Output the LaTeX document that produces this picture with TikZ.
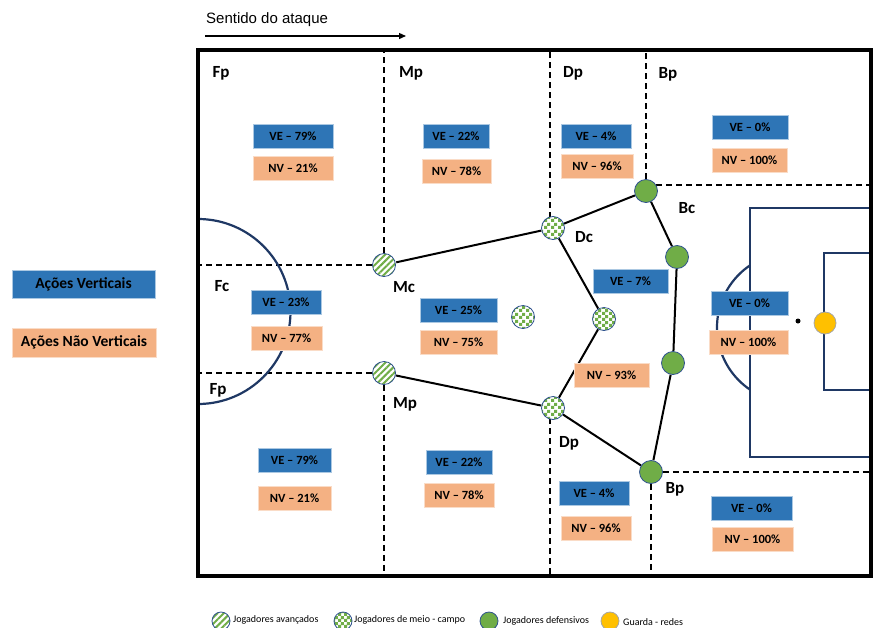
\documentclass[tikz,border=0pt]{standalone}
\usepackage{fontspec}
\setmainfont{Carlito}
\newfontfamily\arialfont{Liberation Sans}
\usepackage{xcolor}
\usepackage{tikz}
\usetikzlibrary{backgrounds}
\usetikzlibrary{positioning, calc, arrows.meta, patterns, patterns.meta}
\definecolor{veblue}{HTML}{2E75B6}
\definecolor{nvorange}{HTML}{F4B183}
\definecolor{pitchline}{HTML}{1F3864}
\definecolor{defgreen}{HTML}{70AD47}
\definecolor{rimblue}{HTML}{2F528F}
\definecolor{gkyellow}{HTML}{FFC000}
\pgfdeclarepatternformonly{meiocheck}{\pgfpointorigin}{\pgfqpoint{6.4pt}{6.4pt}}{\pgfqpoint{6.4pt}{6.4pt}}{
  \pgfpathrectangle{\pgfpointorigin}{\pgfqpoint{3.25pt}{3.25pt}}
  \pgfpathrectangle{\pgfqpoint{3.2pt}{3.2pt}}{\pgfqpoint{3.25pt}{3.25pt}}
  \pgfusepath{fill}}
\tikzset{zone/.style={font=\fontsize{17}{17}\selectfont\bfseries}}
\tikzset{pct/.style={font=\fontsize{12.5}{12.5}\selectfont\bfseries, minimum height=24pt, inner sep=0pt, line width=0.7pt}}
\tikzset{ve/.style={pct, fill=veblue, draw=white!60!veblue, minimum width=#1}, ve/.default=72pt}
\tikzset{nv/.style={pct, fill=nvorange, draw=white!55!nvorange, minimum width=#1}, nv/.default=72pt}
\tikzset{player/.style={circle, minimum size=23pt, inner sep=0pt, draw=rimblue, line width=0.8pt}}
\tikzset{avancado/.style={player, preaction={fill=white}, pattern={Lines[angle=45, distance=4.5pt, line width=2pt]}, pattern color=defgreen}}
\tikzset{meio/.style={player, preaction={fill=white}, pattern=meiocheck, pattern color=defgreen}}
\tikzset{defensor/.style={player, fill=defgreen}}
\tikzset{guarda/.style={circle, minimum size=22pt, inner sep=0pt, fill=gkyellow, draw=gray!70, line width=0.8pt}}
\tikzset{link/.style={line width=2pt}}
\tikzset{divisa/.style={line width=1.6pt, dash pattern=on 6pt off 4pt}}
\tikzset{marca/.style={draw=pitchline, line width=2.2pt}}
\tikzset{legenda/.style={anchor=west, font=\fontsize{10}{10}\selectfont, inner sep=0pt}}

\begin{document}
\begin{tikzpicture}[x=1pt, y=-1pt]
  \useasboundingbox (0,0) rectangle (875,627);

  \node[anchor=west, inner sep=0pt, font=\arialfont\fontsize{15}{15}\selectfont] (sentido) at (206,20) {Sentido do ataque};
  \coordinate (s0) at (205,36);
  \coordinate (s1) at (406,36);
  \draw[-{Triangle[length=7pt, width=6pt]}, line width=1.3pt] (s0) -- (s1);

  % campo
  \coordinate (cnw) at (198,50);
  \coordinate (cse) at (871,576);
  \begin{scope}
    \clip (cnw) rectangle (300,576);
    \draw[marca] (198,311.5) circle[radius=92.5];
  \end{scope}
  \draw[marca] (750,208) rectangle (871,457);
  \draw[marca] (824,253) rectangle (871,390);
  \begin{scope}
    \clip (700,200) rectangle (750,460);
    \draw[marca] (792,327.5) circle[radius=75];
  \end{scope}
  \draw[line width=4.2pt] (cnw) rectangle (cse);
  \node[circle, fill=black, minimum size=5pt, inner sep=0pt] (pen) at (798,321) {};

  % jogadores
  \node[avancado] (mc) at (384,265) {};
  \node[avancado] (mp) at (384,373) {};
  \node[meio] (dc) at (553,228) {};
  \node[meio] (mid) at (523,317) {};
  \node[meio] (dr) at (604,319) {};
  \node[meio] (dp) at (553,408) {};
  \node[defensor] (bc) at (646,191) {};
  \node[defensor] (b2) at (677,257) {};
  \node[defensor] (b3) at (673,363) {};
  \node[defensor] (bp) at (651,472) {};
  \node[guarda] (gk) at (825,323) {};

  \begin{scope}[on background layer]
    \draw[divisa] (mc) -- (mc |- cnw);
    \draw[divisa] (mp) -- (mp |- cse);
    \draw[divisa] (mc) -- (mc -| cnw);
    \draw[divisa] (mp) -- (mp -| cnw);
    \draw[divisa] ([xshift=-3pt]dc.center) -- ([xshift=-3pt]dc.center |- cnw);
    \draw[divisa] ([xshift=-3pt]dp.center) -- ([xshift=-3pt]dp.center |- cse);
    \draw[divisa] (bc) -- (bc |- cnw);
    \draw[divisa] (bc.30) -- (bc.30 -| cse);
    \draw[divisa] (bp) -- (bp |- cse);
    \draw[divisa] (bp) -- (bp -| cse);
    \draw[link] (mc) -- (dc) -- (dr) -- (dp) -- (mp) -- cycle;
    \draw[link] (dc) -- (bc) -- (b2) -- (b3) -- (bp) -- (dp);
  \end{scope}

  % zonas
  \node[zone] (zfp) at (221,73) {Fp};
  \node[zone] (zmp) at (411,73) {Mp};
  \node[zone] (zdp) at (573,73) {Dp};
  \node[zone] (zbp) at (668,74) {Bp};
  \node[zone] (zfc) at (222,286) {Fc};
  \node[zone] (zfp2) at (218,390) {Fp};
  \node[zone] (zmc) at (404,287) {Mc};
  \node[zone] (zmp2) at (405,404) {Mp};
  \node[zone] (zdc) at (584,237) {Dc};
  \node[zone] (zdp2) at (569,443) {Dp};
  \node[zone] (zbc) at (687,208) {Bc};
  \node[zone] (zbp2) at (675,489) {Bp};

  % percentagens
  \node[ve=80pt] (ve1) at (293,136.5) {VE -- 79\%};
  \node[nv=80pt] (nv1) at (293,168) {NV -- 21\%};
  \node[ve=66pt] (ve2) at (456,136) {VE -- 22\%};
  \node[nv=69pt] (nv2) at (456.5,171) {NV -- 78\%};
  \node[ve=70pt] (ve3) at (596,136) {VE -- 4\%};
  \node[nv=72pt] (nv3) at (597,166) {NV -- 96\%};
  \node[ve=76pt] (ve4) at (750,127) {VE -- 0\%};
  \node[nv=75pt] (nv4) at (749.5,160) {NV -- 100\%};

  \node[ve=70pt] (ve5) at (286,302.5) {VE -- 23\%};
  \node[nv=71pt] (nv5) at (286.5,338) {NV -- 77\%};
  \node[ve=77pt] (ve6) at (458.5,310.5) {VE -- 25\%};
  \node[nv=77pt] (nv6) at (458.5,342) {NV -- 75\%};
  \node[ve=75pt] (ve7) at (630.5,281.5) {VE -- 7\%};
  \node[nv=75pt] (nv7) at (611.5,375) {NV -- 93\%};
  \node[ve=77pt] (ve8) at (749.5,303.5) {VE -- 0\%};
  \node[nv=79pt] (nv8) at (748.5,342) {NV -- 100\%};

  \node[ve=73pt] (ve9) at (294.5,460) {VE -- 79\%};
  \node[nv=73pt] (nv9) at (294.5,498) {NV -- 21\%};
  \node[ve=66pt] (ve10) at (459,462) {VE -- 22\%};
  \node[nv=70pt] (nv10) at (459,495.5) {NV -- 78\%};
  \node[ve=70pt] (ve11) at (594,493) {VE -- 4\%};
  \node[nv=70pt] (nv11) at (596,528) {NV -- 96\%};
  \node[ve=81pt] (ve12) at (751.5,508) {VE -- 0\%};
  \node[nv=81pt] (nv12) at (752.5,539.5) {NV -- 100\%};

  % legenda
  \node[ve=143pt, minimum height=28pt, font=\fontsize{15.5}{15.5}\selectfont\bfseries] (lve) at (83.5,284) {Ações Verticais};
  \node[nv=144pt, minimum height=29pt, font=\fontsize{15.5}{15.5}\selectfont\bfseries] (lnv) at (84,342.5) {Ações Não Verticais};

  \node[avancado, minimum size=18pt] (lav) at (221,621) {};
  \node[legenda] (tav) at (233,620) {Jogadores avançados};
  \node[meio, minimum size=18pt] (lme) at (343,621) {};
  \node[legenda] (tme) at (354,620) {Jogadores de meio - campo};
  \node[defensor, minimum size=18pt] (lde) at (489,621) {};
  \node[legenda] (tde) at (503,621) {Jogadores defensivos};
  \node[guarda, minimum size=18pt] (lgr) at (610,621) {};
  \node[legenda] (tgr) at (623,622) {Guarda - redes};
\end{tikzpicture}
\end{document}
